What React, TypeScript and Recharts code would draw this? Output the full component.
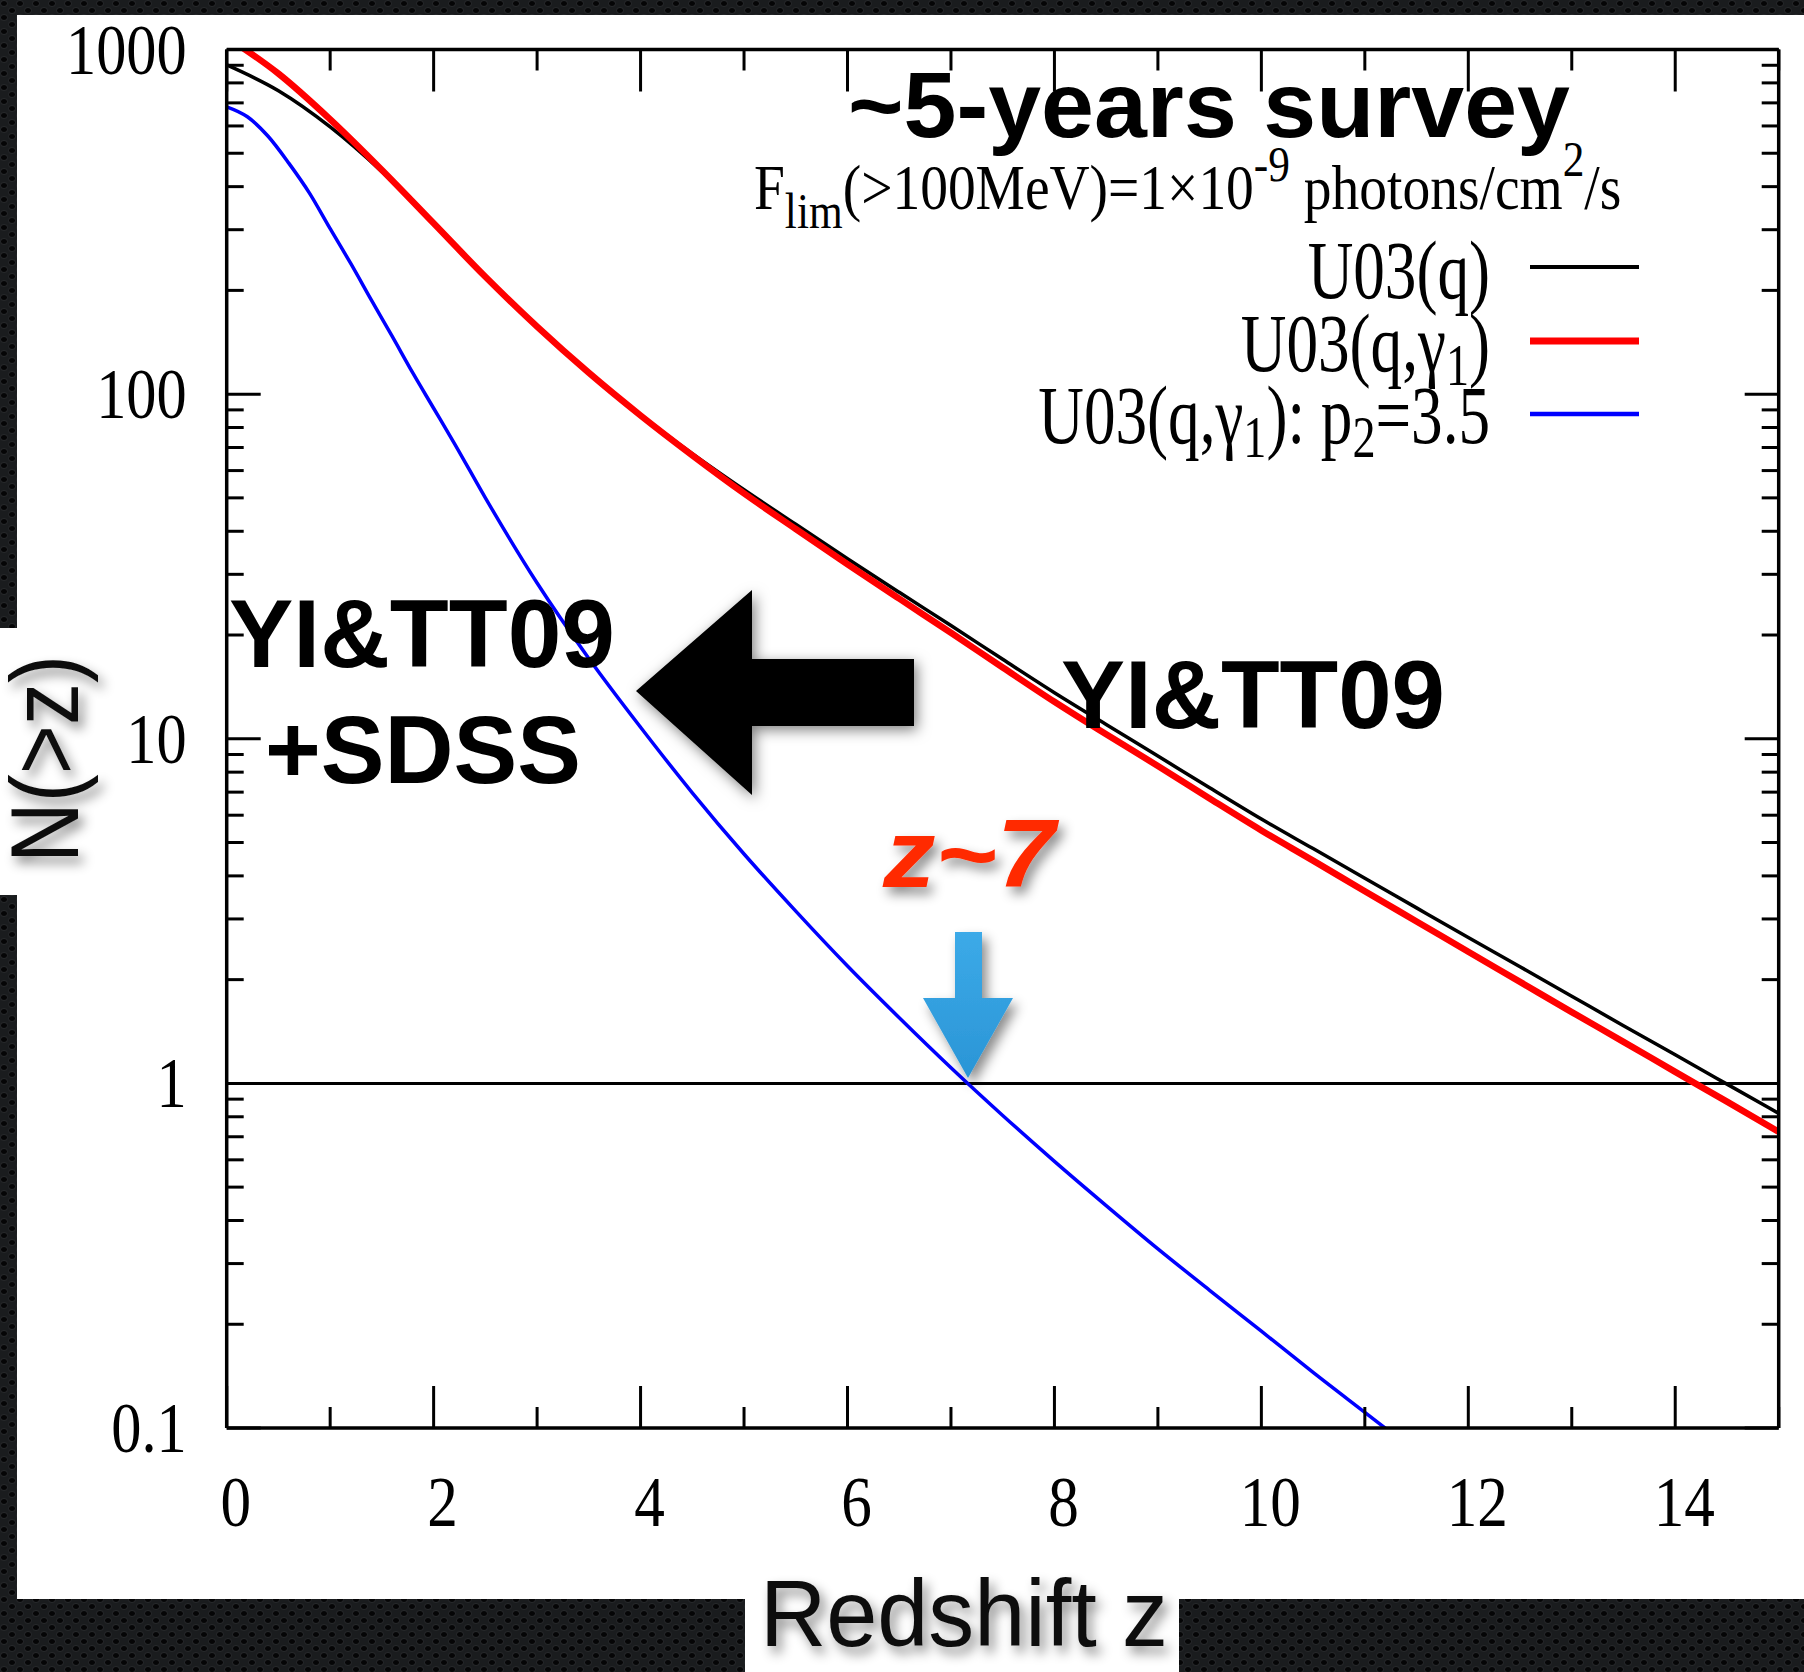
import React from 'react';
import { LineChart, Line, XAxis, YAxis, ReferenceLine } from 'recharts';

const W = 1804;
const H = 1672;

// Cumulative number of sources above redshift z, N(>z)
const zBlue = [0, 0.2, 0.4, 0.6, 0.8, 1.0, 1.2, 1.4, 1.6, 1.8, 2.0, 2.2, 2.5, 3.0, 3.5, 4.0, 4.5, 5.0, 5.5, 6.0, 6.5, 7.0, 7.5, 8.0, 8.5, 9.0, 9.5, 10.0, 10.5, 11.0, 11.5];
const nU03qg1p2 = [682, 638, 560, 468, 383, 302, 239, 187, 147, 115, 91, 72, 50, 28.3, 17.1, 10.8, 6.97, 4.63, 3.16, 2.19, 1.55, 1.11, 0.807, 0.594, 0.442, 0.331, 0.251, 0.191, 0.145, 0.111, 0.085];

const zMain = [0, 0.5, 1, 1.5, 2, 2.5, 3, 3.5, 4, 4.5, 5, 5.5, 6, 6.5, 7, 7.5, 8, 8.5, 9, 9.5, 10, 10.5, 11, 11.5, 12, 12.5, 13, 13.5, 14, 14.5, 15];
const nU03q = [902, 759, 596, 442, 313, 219, 157, 115.5, 87.1, 67.2, 52.8, 41.9, 33.3, 26.6, 21.3, 17.0, 13.6, 11.0, 8.91, 7.21, 5.85, 4.8, 3.94, 3.23, 2.65, 2.18, 1.79, 1.47, 1.21, 0.995, 0.818];
const nU03qg1 = [1086, 851, 627, 447, 313, 219, 157, 115.3, 86.7, 66.4, 51.5, 40.6, 32.1, 25.5, 20.3, 16.1, 12.8, 10.3, 8.34, 6.71, 5.42, 4.43, 3.61, 2.95, 2.41, 1.97, 1.61, 1.32, 1.08, 0.885, 0.724];

const xTicks = [0, 1, 2, 3, 4, 5, 6, 7, 8, 9, 10, 11, 12, 13, 14, 15];
const xLabelled = [0, 2, 4, 6, 8, 10, 12, 14];
const yTicks = [
  0.1, 0.2, 0.3, 0.4, 0.5, 0.6, 0.7, 0.8, 0.9,
  1, 2, 3, 4, 5, 6, 7, 8, 9,
  10, 20, 30, 40, 50, 60, 70, 80, 90,
  100, 200, 300, 400, 500, 600, 700, 800, 900,
  1000,
];
const yDecades = [0.1, 1, 10, 100, 1000];
const yDecadeLabels = ['0.1', '1', '10', '100', '1000'];

const dataBlue = zBlue.map((z, i) => ({ z, n: nU03qg1p2[i] }));
const dataBlack = zMain.map((z, i) => ({ z, n: nU03q[i] }));
const dataRed = zMain.map((z, i) => ({ z, n: nU03qg1[i] }));

const serif = '"Liberation Serif", "Times New Roman", serif';
const sans = '"Liberation Sans", Arial, Helvetica, sans-serif';

const BottomTick = (p: any) => {
  const { x, y, payload } = p;
  const v = payload.value;
  const major = xLabelled.includes(v);
  return (
    <g>
      <line x1={x} x2={x} y1={y} y2={y - (major ? 42 : 21)} stroke="#000" strokeWidth={3} />
      {major && (
        <text
          transform={`translate(${x + 9} ${y + 98}) scale(0.85 1)`}
          textAnchor="middle"
          fontFamily={serif}
          fontSize={72}
          fill="#000"
        >
          {v}
        </text>
      )}
    </g>
  );
};

const TopTick = (p: any) => {
  const { x, y, payload } = p;
  const major = xLabelled.includes(payload.value);
  return <line x1={x} x2={x} y1={y} y2={y + (major ? 42 : 21)} stroke="#000" strokeWidth={3} />;
};

const LeftTick = (p: any) => {
  const { x, y, payload } = p;
  const idx = yDecades.indexOf(payload.value);
  const major = idx >= 0;
  return (
    <g>
      <line x1={x} x2={x + (major ? 34 : 17)} y1={y} y2={y} stroke="#000" strokeWidth={3} />
      {major && (
        <text
          transform={`translate(${x - 40} ${y + 24}) scale(0.85 1)`}
          textAnchor="end"
          fontFamily={serif}
          fontSize={71}
          fill="#000"
        >
          {yDecadeLabels[idx]}
        </text>
      )}
    </g>
  );
};

const RightTick = (p: any) => {
  const { x, y, payload } = p;
  const major = yDecades.includes(payload.value);
  return <line x1={x} x2={x - (major ? 34 : 17)} y1={y} y2={y} stroke="#000" strokeWidth={3} />;
};

const axisLine = { stroke: '#000', strokeWidth: 3.5 };

function Backdrop() {
  return (
    <svg width={W} height={H} style={{ position: 'absolute', left: 0, top: 0 }}>
      <defs>
        <pattern id="mesh" width="16" height="14" patternUnits="userSpaceOnUse">
          <rect width="16" height="14" fill="#1a1c1e" />
          <ellipse cx="4" cy="3.5" rx="3.5" ry="3" fill="#050506" stroke="#303336" strokeWidth="0.7" />
          <ellipse cx="12" cy="10.5" rx="3.5" ry="3" fill="#050506" stroke="#303336" strokeWidth="0.7" />
        </pattern>
      </defs>
      <rect x="0" y="0" width={W} height={H} fill="url(#mesh)" />
      <rect x="17" y="15" width={W - 17} height={1599 - 15} fill="#fff" />
      <rect x="0" y="628" width="20" height="267" fill="#fff" />
      <rect x="745" y="1595" width="434" height={H - 1595} fill="#fff" />
    </svg>
  );
}

function Overlay() {
  return (
    <svg width={W} height={H} style={{ position: 'absolute', left: 0, top: 0, pointerEvents: 'none' }}>
      <defs>
        <filter id="soft" x="-30%" y="-30%" width="160%" height="160%">
          <feDropShadow dx="5" dy="7" stdDeviation="6" floodColor="#000" floodOpacity="0.45" />
        </filter>
        <filter id="halo" x="-30%" y="-30%" width="160%" height="160%">
          <feDropShadow dx="3" dy="4" stdDeviation="7" floodColor="#000" floodOpacity="0.5" />
        </filter>
        <linearGradient id="blueArrow" x1="0" y1="0" x2="0" y2="1">
          <stop offset="0" stopColor="#3caae8" />
          <stop offset="1" stopColor="#2a95d6" />
        </linearGradient>
      </defs>

      {/* title and flux limit */}
      <text x={848} y={137} fontFamily={sans} fontWeight="bold" fontSize={93} textLength={722} lengthAdjust="spacingAndGlyphs" fill="#000">
        ~5-years survey
      </text>
      <text transform="translate(754 209) scale(0.867 1)" fontFamily={serif} fontSize={64} fill="#000">
        <tspan>F</tspan>
        <tspan fontSize={50} dy={19}>lim</tspan>
        <tspan dy={-19}>(&gt;100MeV)=1×10</tspan>
        <tspan fontSize={50} dy={-28}>-9</tspan>
        <tspan dy={28}> photons/cm</tspan>
        <tspan fontSize={50} dy={-33}>2</tspan>
        <tspan dy={33}>/s</tspan>
      </text>

      {/* legend */}
      <g fontFamily={serif} fontSize={82} fill="#000">
        <text transform="translate(1490 298) scale(0.77 1)" textAnchor="end">U03(q)</text>
        <text transform="translate(1490 371) scale(0.77 1)" textAnchor="end">
          <tspan>U03(q,γ</tspan>
          <tspan fontSize={60} dy={14}>1</tspan>
          <tspan dy={-14}>)</tspan>
        </text>
        <text transform="translate(1490 443) scale(0.77 1)" textAnchor="end">
          <tspan>U03(q,γ</tspan>
          <tspan fontSize={60} dy={14}>1</tspan>
          <tspan dy={-14}>): p</tspan>
          <tspan fontSize={60} dy={14}>2</tspan>
          <tspan dy={-14}>=3.5</tspan>
        </text>
      </g>
      <line x1={1530} x2={1639} y1={267} y2={267} stroke="#000" strokeWidth={4} />
      <line x1={1530} x2={1639} y1={341} y2={341} stroke="#ff0000" strokeWidth={7} />
      <line x1={1530} x2={1639} y1={414} y2={414} stroke="#0000ff" strokeWidth={4.5} />

      {/* axis titles */}
      <g filter="url(#soft)">
        <text transform="translate(78 759) rotate(-90)" textAnchor="middle" fontFamily={sans} fontSize={96} textLength={208} lengthAdjust="spacingAndGlyphs" fill="#111">
          N(&gt;z)
        </text>
      </g>
      <g filter="url(#soft)">
        <text x={760} y={1646} fontFamily={sans} fontSize={94} textLength={408} lengthAdjust="spacingAndGlyphs" fill="#111">
          Redshift z
        </text>
      </g>

      {/* annotations */}
      <g fontFamily={sans} fontWeight="bold" fontSize={96} fill="#000">
        <text x={229} y={667} textLength={386} lengthAdjust="spacingAndGlyphs">YI&amp;TT09</text>
        <text x={265} y={783} textLength={316} lengthAdjust="spacingAndGlyphs">+SDSS</text>
        <text x={1061} y={728} textLength={384} lengthAdjust="spacingAndGlyphs">YI&amp;TT09</text>
      </g>
      <polygon points="636,691 752,590 752,659 914,659 914,726 752,726 752,795" fill="#000" filter="url(#halo)" />

      <g filter="url(#soft)">
        <text x={883} y={887} fontFamily={sans} fontWeight="bold" fontStyle="italic" fontSize={96} textLength={172} lengthAdjust="spacingAndGlyphs" fill="#ff2a00">
          z~7
        </text>
      </g>
      <polygon points="955,932 982,932 982,998 1013,998 968,1078 923,998 955,998" fill="url(#blueArrow)" filter="url(#soft)" />
    </svg>
  );
}

export default function App() {
  return (
    <div style={{ position: 'absolute', left: 0, top: 0, width: W, height: H, overflow: 'hidden' }}>
      <Backdrop />
      <div style={{ position: 'absolute', left: 0, top: 0 }}>
        <LineChart width={W} height={H} margin={{ top: 39.5, right: 15.3, bottom: 144, left: 126.7 }}>
          <XAxis
            xAxisId="b"
            type="number"
            dataKey="z"
            domain={[0, 15]}
            ticks={xTicks}
            interval={0}
            allowDataOverflow
            orientation="bottom"
            height={100}
            axisLine={axisLine}
            tickLine={false}
            tickSize={0}
            tickMargin={0}
            tick={BottomTick}
          />
          <XAxis
            xAxisId="t"
            type="number"
            dataKey="z"
            domain={[0, 15]}
            ticks={xTicks}
            interval={0}
            allowDataOverflow
            orientation="top"
            height={10}
            axisLine={axisLine}
            tickLine={false}
            tickSize={0}
            tickMargin={0}
            tick={TopTick}
          />
          <YAxis
            yAxisId="l"
            scale="log"
            type="number"
            domain={[0.1, 1000]}
            ticks={yTicks}
            interval={0}
            allowDataOverflow
            width={100}
            axisLine={axisLine}
            tickLine={false}
            tickSize={0}
            tickMargin={0}
            tick={LeftTick}
          />
          <YAxis
            yAxisId="r"
            orientation="right"
            scale="log"
            type="number"
            domain={[0.1, 1000]}
            ticks={yTicks}
            interval={0}
            allowDataOverflow
            width={10}
            axisLine={axisLine}
            tickLine={false}
            tickSize={0}
            tickMargin={0}
            tick={RightTick}
          />
          <ReferenceLine xAxisId="b" yAxisId="l" y={1} stroke="#000" strokeWidth={3} />
          <Line
            xAxisId="b"
            yAxisId="l"
            data={dataBlack}
            dataKey="n"
            type="monotone"
            stroke="#000"
            strokeWidth={3.5}
            dot={false}
            activeDot={false}
            isAnimationActive={false}
          />
          <Line
            xAxisId="b"
            yAxisId="l"
            data={dataRed}
            dataKey="n"
            type="monotone"
            stroke="#ff0000"
            strokeWidth={6.5}
            dot={false}
            activeDot={false}
            isAnimationActive={false}
          />
          <Line
            xAxisId="b"
            yAxisId="l"
            data={dataBlue}
            dataKey="n"
            type="monotone"
            stroke="#0000ff"
            strokeWidth={3.5}
            dot={false}
            activeDot={false}
            isAnimationActive={false}
          />
        </LineChart>
      </div>
      <Overlay />
    </div>
  );
}
